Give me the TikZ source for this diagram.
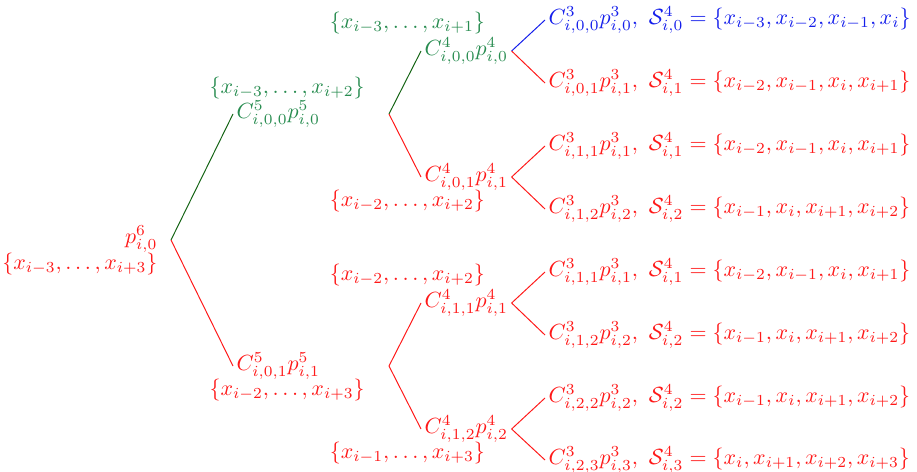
\documentclass[tikz,border=0pt]{standalone}
\usepackage{amsmath,amssymb}
\usepackage{tikz}
\usetikzlibrary{positioning}
\definecolor{setgreen}{RGB}{40,140,80}
\definecolor{edgegreen}{RGB}{20,100,20}
\definecolor{leafblue}{RGB}{20,30,235}
\definecolor{treered}{RGB}{255,25,25}
\tikzset{
  termnode/.style={inner sep=1.5pt, anchor=west},
  setnode/.style={inner sep=1pt},
  rededge/.style={draw=treered, line width=0.45pt},
  greenedge/.style={draw=edgegreen, line width=0.45pt},
  blueedge/.style={draw=leafblue, line width=0.45pt}
}

\begin{document}
\begin{tikzpicture}[x=0.456pt, y=-0.456pt]
  \useasboundingbox (0,0) rectangle (917,471);

  % branch points
  \coordinate (root) at (171,240);
  \coordinate (b1) at (389,114);
  \coordinate (b2) at (389,366);

  % root
  \node[anchor=east, inner sep=1pt, text=treered] (rootp) at (160,239) {$p^6_{i,0}$};
  \node[setnode, text=treered, below=-2pt of rootp.south east, anchor=north east] (rootset)
        {$\{x_{i-3},\ldots,x_{i+3}\}$};

  % first level
  \node[termnode, text=setgreen] (c5a) at (233,114) {$C^5_{i,0,0}p^5_{i,0}$};
  \node[setnode, text=setgreen, above=-2pt of c5a, xshift=4pt] (s5a) {$\{x_{i-3},\ldots,x_{i+2}\}$};
  \node[termnode, text=treered] (c5b) at (233,366) {$C^5_{i,0,1}p^5_{i,1}$};
  \node[setnode, text=treered, below=-3pt of c5b, xshift=4pt] (s5b) {$\{x_{i-2},\ldots,x_{i+3}\}$};

  % second level
  \node[termnode, text=setgreen] (c4a) at (421,51) {$C^4_{i,0,0}p^4_{i,0}$};
  \node[setnode, text=setgreen, above=-1pt of c4a.north east, anchor=south east, xshift=-11pt] (s4a)
        {$\{x_{i-3},\ldots,x_{i+1}\}$};
  \node[termnode, text=treered] (c4b) at (421,177) {$C^4_{i,0,1}p^4_{i,1}$};
  \node[setnode, text=treered, below=-3pt of c4b.south east, anchor=north east, xshift=-11pt] (s4b)
        {$\{x_{i-2},\ldots,x_{i+2}\}$};
  \node[termnode, text=treered] (c4c) at (421,303) {$C^4_{i,1,1}p^4_{i,1}$};
  \node[setnode, text=treered, above=-1pt of c4c.north east, anchor=south east, xshift=-11pt] (s4c)
        {$\{x_{i-2},\ldots,x_{i+2}\}$};
  \node[termnode, text=treered] (c4d) at (421,429) {$C^4_{i,1,2}p^4_{i,2}$};
  \node[setnode, text=treered, below=-3pt of c4d.south east, anchor=north east, xshift=-11pt] (s4d)
        {$\{x_{i-1},\ldots,x_{i+3}\}$};

  % leaves
  \node[termnode, text=leafblue] (l1) at (545,20)
        {$C^3_{i,0,0}p^3_{i,0},\ \mathcal{S}^4_{i,0}=\{x_{i-3},x_{i-2},x_{i-1},x_i\}$};
  \node[termnode, text=treered] (l2) at (545,83)
        {$C^3_{i,0,1}p^3_{i,1},\ \mathcal{S}^4_{i,1}=\{x_{i-2},x_{i-1},x_i,x_{i+1}\}$};
  \node[termnode, text=treered] (l3) at (545,146)
        {$C^3_{i,1,1}p^3_{i,1},\ \mathcal{S}^4_{i,1}=\{x_{i-2},x_{i-1},x_i,x_{i+1}\}$};
  \node[termnode, text=treered] (l4) at (545,209)
        {$C^3_{i,1,2}p^3_{i,2},\ \mathcal{S}^4_{i,2}=\{x_{i-1},x_i,x_{i+1},x_{i+2}\}$};
  \node[termnode, text=treered] (l5) at (545,272)
        {$C^3_{i,1,1}p^3_{i,1},\ \mathcal{S}^4_{i,1}=\{x_{i-2},x_{i-1},x_i,x_{i+1}\}$};
  \node[termnode, text=treered] (l6) at (545,335)
        {$C^3_{i,1,2}p^3_{i,2},\ \mathcal{S}^4_{i,2}=\{x_{i-1},x_i,x_{i+1},x_{i+2}\}$};
  \node[termnode, text=treered] (l7) at (545,398)
        {$C^3_{i,2,2}p^3_{i,2},\ \mathcal{S}^4_{i,2}=\{x_{i-1},x_i,x_{i+1},x_{i+2}\}$};
  \node[termnode, text=treered] (l8) at (545,460)
        {$C^3_{i,2,3}p^3_{i,3},\ \mathcal{S}^4_{i,3}=\{x_i,x_{i+1},x_{i+2},x_{i+3}\}$};

  % edges
  \draw[greenedge] (root) -- (c5a.west);
  \draw[rededge]   (root) -- (c5b.west);
  \draw[greenedge] (b1) -- (c4a.west);
  \draw[rededge]   (b1) -- (c4b.west);
  \draw[rededge]   (b2) -- (c4c.west);
  \draw[rededge]   (b2) -- (c4d.west);
  \draw[blueedge]  (c4a.east) -- (l1.west);
  \draw[rededge]   (c4a.east) -- (l2.west);
  \draw[rededge]   (c4b.east) -- (l3.west);
  \draw[rededge]   (c4b.east) -- (l4.west);
  \draw[rededge]   (c4c.east) -- (l5.west);
  \draw[rededge]   (c4c.east) -- (l6.west);
  \draw[rededge]   (c4d.east) -- (l7.west);
  \draw[rededge]   (c4d.east) -- (l8.west);
\end{tikzpicture}
\end{document}
